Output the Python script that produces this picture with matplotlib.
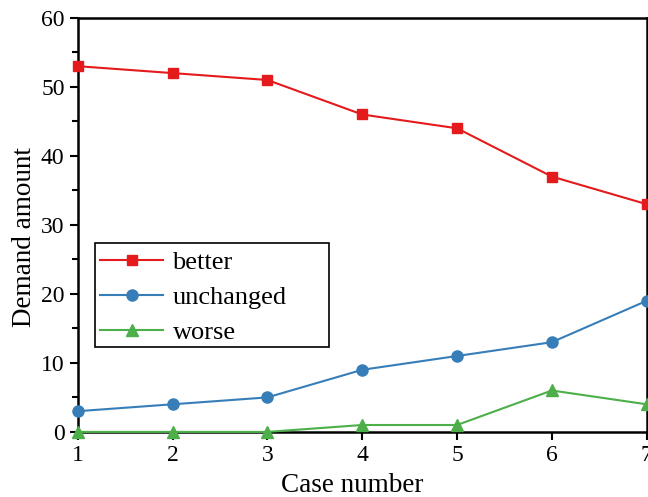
import matplotlib
matplotlib.use("Agg")
import matplotlib.pyplot as plt
from matplotlib.ticker import MultipleLocator
from matplotlib.patches import Rectangle

plt.rcParams['font.family'] = ['Liberation Serif', 'DejaVu Serif']

# donnees
cas = [1, 2, 3, 4, 5, 6, 7]
better = [53, 52, 51, 46, 44, 37, 33]
unchanged = [3, 4, 5, 9, 11, 13, 19]
worse = [0, 0, 0, 1, 1, 6, 4]

fig = plt.figure(figsize=(6.48, 4.97), dpi=100)
ax = fig.add_axes([0.120, 0.131, 0.878, 0.833])

ax.plot(cas, better, color='#e41a1c', marker='s', markersize=7, lw=1.5, label='better', clip_on=False, zorder=3)
ax.plot(cas, unchanged, color='#377eb8', marker='o', markersize=8, lw=1.5, label='unchanged', clip_on=False, zorder=3)
ax.plot(cas, worse, color='#4daf4a', marker='^', markersize=8, lw=1.5, label='worse', clip_on=False, zorder=3)

ax.set_xlim(1, 7)
ax.set_ylim(0, 60)
ax.yaxis.set_major_locator(MultipleLocator(10))
ax.yaxis.set_minor_locator(MultipleLocator(5))
ax.tick_params(direction='out', labelsize=17, width=1.5, length=6)
ax.tick_params(which='minor', direction='out', width=1.5, length=4)
for s in ax.spines.values():
    s.set_linewidth(1.8)

ax.set_xlabel('Case number', fontsize=19.5)
ax.xaxis.set_label_coords(0.482, -0.1)
ax.set_ylabel('Demand amount', fontsize=19.5)
ax.yaxis.set_label_coords(-0.072, 0.471)

# cadre de la legende (plus large a droite comme dans l'original)
ax.add_patch(Rectangle((0.0298, 0.205), 0.412, 0.252, transform=ax.transAxes,
                       fill=False, edgecolor='black', lw=1.2, zorder=4))
leg = ax.legend(loc='upper left', bbox_to_anchor=(0.025, 0.457), fontsize=19,
                frameon=False, handlelength=2.4, handletextpad=0.35,
                borderpad=0.3, labelspacing=0.44, borderaxespad=0)

plt.savefig('out.png', dpi=100)
